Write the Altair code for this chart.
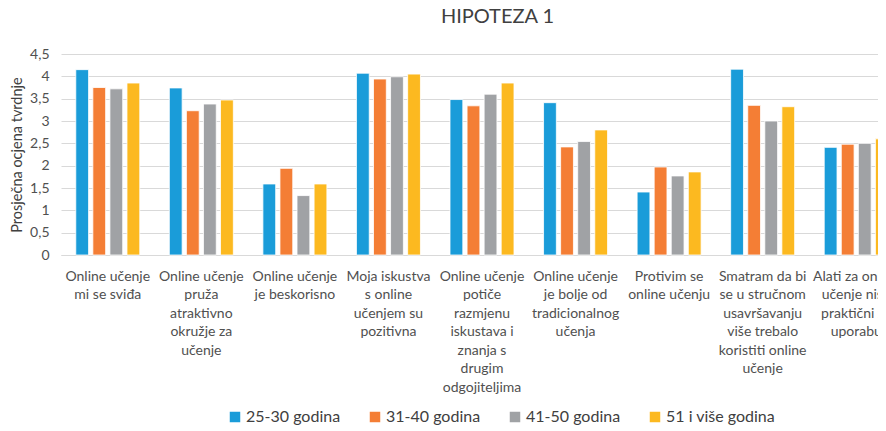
import altair as alt
import pandas as pd

categories = [
    "Online učenje|mi se sviđa",
    "Online učenje|pruža|atraktivno|okružje za|učenje",
    "Online učenje|je beskorisno",
    "Moja iskustva|s online|učenjem su|pozitivna",
    "Online učenje|potiče|razmjenu|iskustava i|znanja s|drugim|odgojiteljima",
    "Online učenje|je bolje od|tradicionalnog|učenja",
    "Protivim se|online učenju",
    "Smatram da bi|se u stručnom|usavršavanju|više trebalo|koristiti online|učenje",
    "Alati za online|učenje nisu|praktični za|uporabu",
]
groups = ["25-30 godina", "31-40 godina", "41-50 godina", "51 i više godina"]
colors = ["#1A9CD9", "#F47E35", "#A0A2A5", "#FCB920"]

v_25_30 = [4.15, 3.74, 1.59, 4.07, 3.48, 3.41, 1.41, 4.16, 2.41]
v_31_40 = [3.75, 3.23, 1.94, 3.94, 3.34, 2.42, 1.97, 3.35, 2.48]
v_41_50 = [3.72, 3.38, 1.33, 3.99, 3.60, 2.54, 1.77, 3.00, 2.50]
v_51 = [3.85, 3.47, 1.59, 4.05, 3.85, 2.80, 1.86, 3.32, 2.60]

rows = []
for g, vals in zip(groups, [v_25_30, v_31_40, v_41_50, v_51]):
    for c, v in zip(categories, vals):
        rows.append({"kategorija": c, "skupina": g, "vrijednost": v})
df = pd.DataFrame(rows)

FONT = "Lato"

chart = (
    alt.Chart(df)
    .mark_bar(stroke="white", strokeWidth=0.8)
    .encode(
        x=alt.X(
            "kategorija:N",
            sort=categories,
            scale=alt.Scale(paddingInner=0.316, paddingOuter=0.158, range=[0, 842]),
            axis=alt.Axis(
                title=None,
                labelAngle=0,
                labelExpr="split(datum.label, '|')",
                labelFont=FONT,
                labelFontSize=14,
                labelColor="#505050",
                labelLineHeight=18.5,
                labelPadding=14,
                labelLimit=200,
                ticks=False,
                domainColor="#D9D9D9",
                domainWidth=1,
            ),
        ),
        xOffset=alt.XOffset(
            "skupina:N",
            sort=groups,
            scale=alt.Scale(paddingInner=0.25, paddingOuter=0),
        ),
        y=alt.Y(
            "vrijednost:Q",
            scale=alt.Scale(domain=[0, 4.5], nice=False),
            axis=alt.Axis(
                title="Prosječna ocjena tvrdnje",
                titleFont=FONT,
                titleFontSize=14.5,
                titleFontWeight="normal",
                titleColor="#404040",
                titlePadding=5,
                values=[0, 0.5, 1, 1.5, 2, 2.5, 3, 3.5, 4, 4.5],
                labelExpr="replace(toString(datum.value), '.', ',')",
                labelFont=FONT,
                labelFontSize=14,
                labelColor="#505050",
                labelPadding=12,
                ticks=False,
                domain=False,
                gridColor="#D9D9D9",
                gridWidth=1,
            ),
        ),
        color=alt.Color(
            "skupina:N",
            sort=groups,
            scale=alt.Scale(domain=groups, range=colors),
            legend=alt.Legend(
                title=None,
                orient="none",
                direction="horizontal",
                legendX=166,
                legendY=355,
                symbolType="square",
                symbolSize=110,
                symbolStrokeWidth=0,
                labelFont=FONT,
                labelFontSize=16,
                labelColor="#404040",
                labelOffset=3,
                columnPadding=26,
            ),
        ),
    )
    .properties(
        width=817,
        height=201,
        autosize=alt.AutoSizeParams(type="none"),
        padding={"left": 53, "top": 46, "right": 0, "bottom": 172},
        title=alt.TitleParams(
            "HIPOTEZA 1",
            font=FONT,
            fontSize=20,
            fontWeight="normal",
            color="#404040",
            anchor="middle",
            dx=28,
            offset=20,
        ),
    )
    .configure_view(stroke=None)
)

chart.save("out.html", embed_options={"renderer": "svg", "actions": False})
